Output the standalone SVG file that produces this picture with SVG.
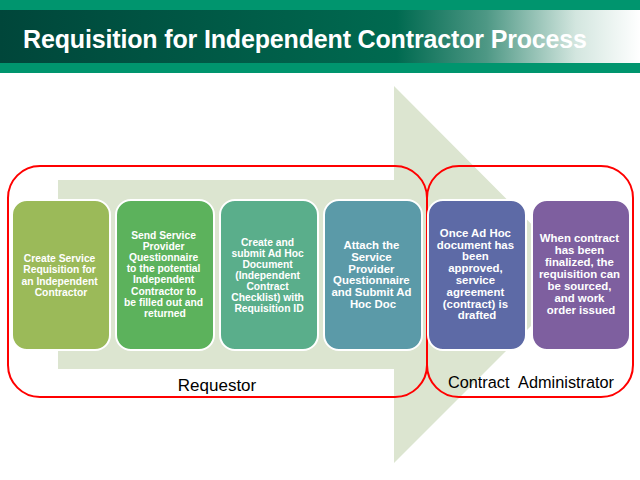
<svg xmlns="http://www.w3.org/2000/svg" width="640" height="480" viewBox="0 0 640 480">
  <defs>
    <linearGradient id="band" x1="0" y1="0" x2="1" y2="0">
      <stop offset="0" stop-color="#00463A"/>
      <stop offset="0.62" stop-color="#006A50"/>
      <stop offset="0.76" stop-color="#4E9885"/>
      <stop offset="0.9" stop-color="#D3E6DF"/>
      <stop offset="1" stop-color="#FFFFFF"/>
    </linearGradient>
    <style>
      .stripe { fill: #00956E; }
      .title { font-family: "Liberation Sans", Arial, sans-serif; font-weight: bold; font-size: 25px; fill: #FFFFFF; }
      .step { stroke: #FFFFFF; stroke-width: 2; }
      .txt { font-family: "Liberation Sans", Arial, sans-serif; font-weight: bold; fill: #FFFFFF; text-anchor: middle; }
      .s1 { font-size: 10.3px; }
      .s2 { font-size: 11.4px; }
      .lane { fill: none; stroke: #FF0000; stroke-width: 2; }
      .lbl { font-family: "Liberation Sans", Arial, sans-serif; fill: #000000; text-anchor: middle; }
    </style>
  </defs>

  <rect width="640" height="480" fill="#FFFFFF"/>

  <!-- Header -->
  <g id="header">
    <rect class="stripe" x="0" y="0" width="640" height="10"/>
    <rect x="0" y="10" width="640" height="53" fill="url(#band)"/>
    <rect class="stripe" x="0" y="63" width="640" height="10"/>
    <text class="title" x="23" y="48" textLength="564" lengthAdjust="spacing">Requisition for Independent Contractor Process</text>
  </g>

  <!-- Background flow arrow -->
  <g id="connectors">
    <polygon id="flow-arrow" points="58,180 394,180 394,86 582,275 394,463 394,369 58,369" fill="#DCE5D0"/>
  </g>

  <!-- Lanes -->
  <g id="lane-requestor">
    <rect class="lane" x="8" y="166" width="419" height="231" rx="32" ry="32"/>
    <text class="lbl" x="217" y="391" font-size="17">Requestor</text>
  </g>
  <g id="lane-contract-admin">
    <rect class="lane" x="427" y="166" width="206" height="231" rx="32" ry="32"/>
    <text class="lbl" x="531" y="388" font-size="16.3" word-spacing="5">Contract Administrator</text>
  </g>

  <!-- Steps -->
  <g id="step1">
    <rect class="step" x="12" y="200" width="98" height="150" rx="15" fill="#9BBA59"/>
    <text class="txt s1" x="61">
      <tspan x="61" y="262">Create Service</tspan>
      <tspan x="61" y="273.3">Requisition for</tspan>
      <tspan x="61" y="284.6">an Independent</tspan>
      <tspan x="61" y="295.9">Contractor</tspan>
    </text>
  </g>
  <g id="step2">
    <rect class="step" x="116" y="200" width="98" height="150" rx="15" fill="#5CB25C"/>
    <text class="txt s1" x="165">
      <tspan x="165" y="239">Send Service</tspan>
      <tspan x="165" y="250.1">Provider</tspan>
      <tspan x="165" y="261.2">Questionnaire</tspan>
      <tspan x="165" y="272.3">to the potential</tspan>
      <tspan x="165" y="283.4">Independent</tspan>
      <tspan x="165" y="294.5">Contractor to</tspan>
      <tspan x="165" y="305.6">be filled out and</tspan>
      <tspan x="165" y="316.7">returned</tspan>
    </text>
  </g>
  <g id="step3">
    <rect class="step" x="220" y="200" width="98" height="150" rx="15" fill="#5AAE8B"/>
    <text class="txt s1" x="269">
      <tspan x="269" y="245.7">Create and</tspan>
      <tspan x="269" y="256.7">submit Ad Hoc</tspan>
      <tspan x="269" y="267.7">Document</tspan>
      <tspan x="269" y="278.7">(Independent</tspan>
      <tspan x="269" y="289.7">Contract</tspan>
      <tspan x="269" y="300.7">Checklist) with</tspan>
      <tspan x="269" y="311.7">Requisition ID</tspan>
    </text>
  </g>
  <g id="step4">
    <rect class="step" x="324" y="200" width="98" height="150" rx="15" fill="#5B9AA8"/>
    <text class="txt s2" x="373">
      <tspan x="373" y="249">Attach the</tspan>
      <tspan x="373" y="260.8">Service</tspan>
      <tspan x="373" y="272.6">Provider</tspan>
      <tspan x="373" y="284.4">Questionnaire</tspan>
      <tspan x="373" y="296.2">and Submit Ad</tspan>
      <tspan x="373" y="308">Hoc Doc</tspan>
    </text>
  </g>
  <g id="step5">
    <rect class="step" x="428" y="200" width="98" height="150" rx="15" fill="#5D6AA6"/>
    <text class="txt s2" x="477">
      <tspan x="477" y="236.8">Once Ad Hoc</tspan>
      <tspan x="477" y="248.6">document has</tspan>
      <tspan x="477" y="260.4">been</tspan>
      <tspan x="477" y="272.2">approved,</tspan>
      <tspan x="477" y="284">service</tspan>
      <tspan x="477" y="295.8">agreement</tspan>
      <tspan x="477" y="307.6">(contract) is</tspan>
      <tspan x="477" y="319.4">drafted</tspan>
    </text>
  </g>
  <g id="step6">
    <rect class="step" x="532" y="200" width="98" height="150" rx="15" fill="#7E5F9F"/>
    <text class="txt s2" x="581">
      <tspan x="581" y="242.4">When contract</tspan>
      <tspan x="581" y="254.4">has been</tspan>
      <tspan x="581" y="266.4">finalized, the</tspan>
      <tspan x="581" y="278.4">requisition can</tspan>
      <tspan x="581" y="290.4">be sourced,</tspan>
      <tspan x="581" y="302.4">and work</tspan>
      <tspan x="581" y="314.4">order issued</tspan>
    </text>
  </g>
</svg>
